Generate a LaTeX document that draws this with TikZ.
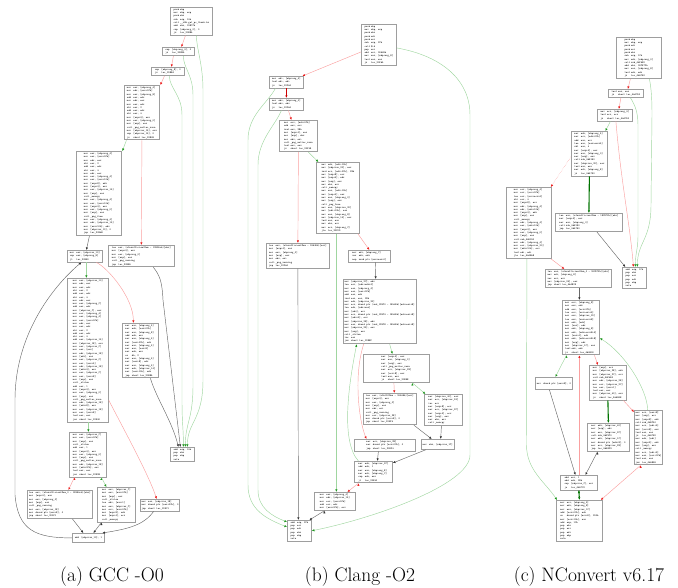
\documentclass[tikz,border=0pt]{standalone}
\usepackage{fontspec}
\usepackage{xcolor}
\usepackage{tikz}
\usetikzlibrary{arrows.meta}

\definecolor{truel}{RGB}{160,214,160}
\definecolor{trueh}{RGB}{30,150,30}
\definecolor{falsel}{RGB}{250,160,160}
\definecolor{falseh}{RGB}{235,30,30}
\definecolor{flowl}{RGB}{105,105,105}
\definecolor{boldg}{RGB}{0,115,0}
\definecolor{boldr}{RGB}{205,0,0}

\newcommand\asm{\fontsize{2.6}{3.3}\selectfont\ttfamily}
\newcommand\mn[1]{\makebox[6.5pt][l]{#1}}
\newcommand\capt{\fontsize{19.5}{23}\selectfont}

\begin{document}
\begin{tikzpicture}[x=1pt, y=-1pt,
    arrowhead/.style = {-{Latex[length=2.6pt,width=2.3pt,color=#1]}},
    block/.style = {rectangle, draw=black!38, line width=0.8pt, fill=white,
                    anchor=north west, align=left, inner sep=1.3pt, font=\asm},
    bw/.style = {minimum width=#1pt},
    yesedge/.style = {draw=truel, line width=0.45pt, arrowhead=trueh},
    noedge/.style = {draw=falsel, line width=0.45pt, arrowhead=falseh},
    flowedge/.style = {draw=flowl, line width=0.45pt, arrowhead=black!80},
    boldedge/.style = {draw=boldg, line width=1.1pt, arrowhead=boldg},
    boldno/.style = {draw=boldr, line width=1.1pt, arrowhead=boldr},
    subcap/.style = {font=\capt, anchor=base}]
  \useasboundingbox (0,0) rectangle (678,588);

  % (a) GCC -O0
  \node (gentry) [block, bw=42] at (170,7) {\mn{push}ebp\\\mn{mov}ebp, esp\\\mn{push}ebx\\\mn{sub}esp, 14h\\\mn{call}\_\_x86.get\_pc\_thunk.bx\\\mn{add}ebx, 1987Ch\\\mn{cmp}[ebp+arg\_0], 0\\\mn{jz}loc\_2088A};
  \node (gchka) [block, bw=32] at (162,47) {\mn{cmp}[ebp+arg\_4], 0\\\mn{jz}loc\_2088A};
  \node (gchkb) [block, bw=33] at (151,67) {\mn{cmp}[ebp+arg\_8], 0\\\mn{jz}loc\_2088A};
  \node (galloc) [block, bw=35] at (124,85) {\mn{mov}eax, [ebp+arg\_4]\\\mn{mov}edx, [eax+0Ch]\\\mn{mov}eax, [ebp+arg\_8]\\\mn{add}eax, edx\\\mn{mov}edx, eax\\\mn{mov}eax, edx\\\mn{shl}eax, 2\\\mn{add}eax, edx\\\mn{shl}eax, 3\\\mn{mov}[esp+4], eax\\\mn{mov}eax, [ebp+arg\_0]\\\mn{mov}[esp], eax\\\mn{call}\_png\_malloc\_warn\\\mn{mov}[ebp+var\_14], eax\\\mn{cmp}[ebp+var\_14], 0\\\mn{jz}short loc\_208A9};
  \node (gcopy) [block, bw=45] at (76,151) {\mn{mov}eax, [ebp+arg\_4]\\\mn{mov}eax, [eax+0Ch]\\\mn{mov}edx, eax\\\mn{shl}eax, 2\\\mn{add}eax, edx\\\mn{shl}eax, 3\\\mn{mov}edx, eax\\\mn{mov}eax, [ebp+arg\_4]\\\mn{mov}eax, [eax+10h]\\\mn{mov}[esp+8], edx\\\mn{mov}[esp+4], eax\\\mn{mov}eax, [ebp+var\_14]\\\mn{mov}[esp], eax\\\mn{call}\_memcpy\\\mn{mov}eax, [ebp+arg\_4]\\\mn{mov}eax, [eax+10h]\\\mn{mov}[esp+4], eax\\\mn{mov}eax, [ebp+arg\_0]\\\mn{mov}[esp], eax\\\mn{call}\_png\_free\\\mn{mov}eax, [ebp+arg\_4]\\\mn{mov}edx, [ebp+var\_14]\\\mn{mov}[eax+10h], edx\\\mn{mov}[ebp+var\_10], 0\\\mn{jmp}loc\_20868};
  \node (gwarn) [block, bw=66] at (108,245) {\mn{lea}eax, (aInsufficientMem - 1999Ach)[ebx]\\\mn{mov}[esp+4], eax\\\mn{mov}eax, [ebp+arg\_0]\\\mn{mov}[esp], eax\\\mn{call}\_png\_warning\\\mn{jmp}loc\_2088A};
  \node (gcond) [block, bw=35] at (67,250) {\mn{mov}eax, [ebp+var\_10]\\\mn{cmp}eax, [ebp+arg\_8]\\\mn{jl}loc\_208B0};
  \node (gbody) [block, bw=41] at (67,278) {\mn{mov}eax, [ebp+var\_10]\\\mn{mov}edx, eax\\\mn{mov}eax, edx\\\mn{shl}eax, 2\\\mn{add}eax, edx\\\mn{shl}eax, 3\\\mn{mov}edx, eax\\\mn{mov}eax, [ebp+arg\_C]\\\mn{add}eax, edx\\\mn{mov}[ebp+var\_C], eax\\\mn{mov}ecx, [ebp+arg\_4]\\\mn{mov}eax, [ebp+arg\_4]\\\mn{mov}eax, [eax+0Ch]\\\mn{mov}edx, eax\\\mn{mov}eax, edx\\\mn{shl}eax, 2\\\mn{add}eax, edx\\\mn{shl}eax, 3\\\mn{add}eax, [ebp+var\_14]\\\mn{mov}[ebp+var\_18], eax\\\mn{mov}eax, [ebp+var\_C]\\\mn{mov}eax, [eax]\\\mn{mov}edx, [ebp+var\_18]\\\mn{mov}[edx], eax\\\mn{mov}eax, [ebp+var\_C]\\\mn{mov}eax, [eax+4]\\\mn{mov}edx, [ebp+var\_18]\\\mn{mov}[edx+4], eax\\\mn{mov}eax, [ebp+var\_C]\\\mn{mov}eax, [eax+8]\\\mn{mov}[esp], eax\\\mn{call}\_strlen\\\mn{add}eax, 1\\\mn{mov}[esp+4], eax\\\mn{mov}eax, [ebp+arg\_0]\\\mn{mov}[esp], eax\\\mn{call}\_png\_malloc\_warn\\\mn{mov}edx, [ebp+var\_18]\\\mn{mov}[edx+8], eax\\\mn{mov}eax, [ebp+var\_18]\\\mn{mov}eax, [eax+8]\\\mn{test}eax, eax\\\mn{jnz}short loc\_20940};
  \node (gfix) [block, bw=36] at (122,323) {\mn{mov}eax, [ebp+arg\_4]\\\mn{mov}edx, [eax+0Ch]\\\mn{mov}eax, [ebp+arg\_8]\\\mn{add}edx, eax\\\mn{mov}eax, [ebp+arg\_4]\\\mn{mov}[eax+0Ch], edx\\\mn{mov}eax, [ebp+arg\_4]\\\mn{mov}eax, [eax+8]\\\mn{mov}edx, eax\\\mn{or}dh, 2\\\mn{mov}eax, [ebp+arg\_4]\\\mn{mov}[eax+8], edx\\\mn{mov}eax, [ebp+arg\_4]\\\mn{mov}edx, [ebp+var\_14]\\\mn{mov}[eax+10h], edx\\\mn{jmp}short loc\_2088A};
  \node (gret) [block, bw=24] at (170,447) {\mn{add}esp, 14h\\\mn{pop}ebx\\\mn{pop}ebp\\\mn{retn}};
  \node (gdup) [block, bw=37] at (69,432) {\mn{mov}eax, [ebp+var\_C]\\\mn{mov}eax, [eax+0Ch]\\\mn{mov}[esp], eax\\\mn{call}\_strlen\\\mn{add}eax, 1\\\mn{mov}[esp+4], eax\\\mn{mov}eax, [ebp+arg\_0]\\\mn{mov}[esp], eax\\\mn{call}\_png\_malloc\_warn\\\mn{mov}edx, [ebp+var\_18]\\\mn{mov}[edx+0Ch], eax\\\mn{test}eax, eax\\\mn{jnz}short loc\_20998};
  \node (gnomem) [block, bw=65] at (27,490) {\mn{lea}eax, (aInsufficientMem\_0 - 1999Ach)[ebx]\\\mn{mov}[esp+4], eax\\\mn{mov}eax, [ebp+arg\_0]\\\mn{mov}[esp], eax\\\mn{call}\_png\_warning\\\mn{mov}eax, [ebp+var\_18]\\\mn{mov}dword ptr [eax+8], 0\\\mn{jmp}short loc\_209C1};
  \node (gcpy) [block, bw=38] at (97,487) {\mn{mov}eax, [ebp+var\_C]\\\mn{mov}eax, [eax+0Ch]\\\mn{mov}[esp], eax\\\mn{call}\_strlen\\\mn{lea}edx, [eax+1]\\\mn{mov}eax, [ebp+var\_C]\\\mn{mov}ecx, [eax+0Ch]\\\mn{mov}[esp+8], edx\\\mn{mov}[esp+4], ecx\\\mn{call}\_memcpy};
  \node (gnull) [block, bw=39] at (140,499) {\mn{mov}eax, [ebp+var\_18]\\\mn{mov}dword ptr [eax+0Ch], 0\\\mn{jmp}short loc\_209C1};
  \node (ginc) [block, bw=32, minimum height=9pt] at (72,533) {\mn{add}[ebp+var\_10], 1};

  % (b) Clang -O2
  \node (centry) [block, bw=35] at (361,24) {\mn{push}ebp\\\mn{mov}ebp, esp\\\mn{push}ebx\\\mn{push}edi\\\mn{push}esi\\\mn{sub}esp, 2Ch\\\mn{call}\$+5\\\mn{pop}esi\\\mn{add}esi, 1B53Bh\\\mn{mov}eax, [ebp+arg\_8]\\\mn{test}eax, eax\\\mn{jz}loc\_20F64};
  \node (cchka) [block, bw=34] at (269,76) {\mn{mov}edi, [ebp+arg\_4]\\\mn{test}edi, edi\\\mn{jz}loc\_20F64};
  \node (cchkb) [block, bw=34] at (269,98) {\mn{mov}ebx, [ebp+arg\_0]\\\mn{test}ebx, ebx\\\mn{jz}loc\_20F64};
  \node (calloc) [block, bw=38] at (279,120) {\mn{mov}ecx, [edi+0Ch]\\\mn{add}eax, ecx\\\mn{imul}eax, 28h\\\mn{mov}[esp+4], eax\\\mn{mov}[esp], ebx\\\mn{mov}ebx, esi\\\mn{call}\_png\_malloc\_warn\\\mn{test}eax, eax\\\mn{jz}short loc\_20F3E};
  \node (ccopy) [block, bw=43] at (316,162) {\mn{mov}edx, [edi+10h]\\\mn{mov}[ebp+var\_20], eax\\\mn{imul}ecx, [edi+0Ch], 28h\\\mn{mov}[esp+8], ecx\\\mn{mov}[esp+4], edx\\\mn{mov}[esp], eax\\\mn{mov}ebx, esi\\\mn{call}\_memcpy\\\mn{mov}eax, [edi+10h]\\\mn{mov}[esp+4], eax\\\mn{mov}eax, [ebp+arg\_0]\\\mn{mov}[esp], eax\\\mn{call}\_png\_free\\\mn{mov}eax, [ebp+var\_20]\\\mn{mov}[edi+10h], eax\\\mn{mov}eax, [ebp+arg\_8]\\\mn{mov}[ebp+var\_14], eax\\\mn{test}eax, eax\\\mn{mov}ebx, esi\\\mn{mov}ecx, [ebp+arg\_C]\\\mn{jle}loc\_20F0D};
  \node (cwarn) [block, bw=63] at (266,243) {\mn{lea}eax, (aInsufficientMem - 1B53Bh)[esi]\\\mn{mov}[esp+4], eax\\\mn{mov}eax, [ebp+arg\_0]\\\mn{mov}[esp], eax\\\mn{mov}ebx, esi\\\mn{call}\_png\_warning\\\mn{jmp}loc\_20F64};
  \node (cinit) [block, bw=42] at (348,250) {\mn{mov}edi, [ebp+arg\_C]\\\mn{xor}edx, edx\\\mn{nop}word ptr [eax+eax+0]};
  \node (cbody) [block, bw=72] at (343,279) {\mn{mov}[ebp+var\_2C], edx\\\mn{lea}esi, [edx+edx*4]\\\mn{mov}eax, [ebp+arg\_4]\\\mn{mov}eax, [eax+0Ch]\\\mn{add}eax, edx\\\mn{imul}eax, eax, 28h\\\mn{mov}edx, [ebp+var\_20]\\\mn{mov}ecx, dword ptr (unk\_1D9C0 - 1B53Bh)[edi+esi*8]\\\mn{lea}edx, [edx+eax]\\\mn{mov}[edx], ecx\\\mn{mov}ecx, dword ptr (unk\_1D9C4 - 1B53Bh)[edi+esi*8]\\\mn{mov}[edx+4], ecx\\\mn{mov}[ebp+var\_28], edx\\\mn{mov}eax, dword ptr (unk\_1D9C8 - 1B53Bh)[edi+esi*8]\\\mn{mov}[ebp+var\_24], eax\\\mn{mov}[esp], eax\\\mn{call}\_strlen\\\mn{inc}eax\\\mn{jnz}short loc\_20E8F};
  \node (cdup) [block, bw=66] at (363,354) {\mn{mov}[esp+4], eax\\\mn{mov}eax, [ebp+arg\_0]\\\mn{mov}[esp], eax\\\mn{call}\_png\_malloc\_warn\\\mn{mov}ecx, [ebp+var\_28]\\\mn{mov}[ecx+8], eax\\\mn{test}eax, eax\\\mn{jz}short loc\_20EB8};
  \node (cnomem) [block, bw=53] at (363,393) {\mn{lea}eax, (aOutOfMem - 1B53Bh)[esi]\\\mn{mov}[esp+4], eax\\\mn{mov}eax, [ebp+arg\_0]\\\mn{mov}[esp], eax\\\mn{mov}ebx, esi\\\mn{call}\_png\_warning\\\mn{mov}ecx, [ebp+var\_28]\\\mn{mov}dword ptr [ecx+8], 0\\\mn{jmp}short loc\_20EF3};
  \node (ccpy) [block, bw=38] at (424,394) {\mn{mov}[ebp+var\_30], eax\\\mn{mov}ecx, [ebp+var\_24]\\\mn{inc}ecx\\\mn{mov}[esp+8], ecx\\\mn{mov}ecx, [ebp+var\_2C]\\\mn{mov}[esp+4], ecx\\\mn{mov}[esp], eax\\\mn{mov}ebx, esi\\\mn{call}\_memcpy};
  \node (cnull) [block, bw=61] at (354,439) {\mn{mov}ecx, [ebp+var\_28]\\\mn{mov}dword ptr [ecx+0Ch], 0\\\mn{jmp}short loc\_20EF3};
  \node (cjoin) [block, bw=32, minimum height=10pt] at (421,439) {\mn{mov}ebx, [ebp+var\_1C]};
  \node (cinc) [block, bw=38] at (354,461) {\mn{mov}edx, [ebp+var\_2C]\\\mn{add}edx, 1\\\mn{mov}eax, [ebp+arg\_8]\\\mn{mov}edi, [ebp+arg\_C]\\\mn{cmp}edx, eax\\\mn{jl}loc\_20E30};
  \node (cfix) [block, bw=41] at (314,492) {\mn{mov}eax, [ebp+arg\_4]\\\mn{mov}edx, [ebp+var\_14]\\\mn{mov}ecx, [eax+0Ch]\\\mn{add}ecx, edx\\\mn{mov}[eax+0Ch], ecx};
  \node (cret) [block, bw=24] at (287,520) {\mn{add}esp, 2Ch\\\mn{pop}esi\\\mn{pop}edi\\\mn{pop}ebx\\\mn{pop}ebp\\\mn{retn}};

  % (c) NConvert v6.17
  \node (nentry) [block, bw=45] at (616,37) {\mn{push}ebp\\\mn{mov}ebp, esp\\\mn{push}edi\\\mn{push}esi\\\mn{push}ebx\\\mn{sub}esp, 1Ch\\\mn{mov}edx, [ebp+arg\_0]\\\mn{call}sub\_46F5E0\\\mn{add}ebx, 1ECB7Fh\\\mn{mov}eax, [ebp+arg\_8]\\\mn{test}edx, edx\\\mn{jz}loc\_46A7B0};
  \node (nchka) [block, bw=35] at (608,89) {\mn{test}eax, eax\\\mn{jz}short loc\_46A7B0};
  \node (nchkb) [block, bw=35] at (597,109) {\mn{mov}ecx, [ebp+arg\_4]\\\mn{test}ecx, ecx\\\mn{jz}short loc\_46A7B0};
  \node (nalloc) [block, bw=36] at (571,131) {\mn{mov}edx, [ebp+arg\_4]\\\mn{mov}ecx, [edx+0Ch]\\\mn{add}eax, ecx\\\mn{lea}eax, [eax+eax*4]\\\mn{shl}eax, 3\\\mn{mov}[esp+4], eax\\\mn{mov}eax, [ebp+arg\_0]\\\mn{mov}[esp], eax\\\mn{call}sub\_46B1B0\\\mn{mov}[ebp+var\_20], eax\\\mn{test}eax, eax\\\mn{mov}edi, [ebp+arg\_8]\\\mn{jz}loc\_46A790};
  \node (ncopy) [block, bw=45] at (506,187) {\mn{mov}ecx, [ebp+arg\_4]\\\mn{mov}ecx, [ecx+0Ch]\\\mn{lea}ecx, [ecx+ecx*4]\\\mn{shl}ecx, 3\\\mn{mov}[esp+8], ecx\\\mn{mov}edx, [ebp+arg\_4]\\\mn{mov}edx, [edx+10h]\\\mn{mov}[esp+4], edx\\\mn{mov}[esp], eax\\\mn{call}\_memcpy\\\mn{mov}edx, [ebp+arg\_4]\\\mn{mov}eax, [edx+10h]\\\mn{mov}[esp+4], eax\\\mn{mov}eax, [ebp+arg\_0]\\\mn{mov}[esp], eax\\\mn{call}sub\_46B240\\\mn{mov}edx, [ebp+arg\_4]\\\mn{mov}ecx, [ebp+var\_20]\\\mn{mov}[edx+10h], ecx\\\mn{test}edi, edi\\\mn{jle}loc\_46A868};
  \node (nwarn) [block, bw=67] at (555,213) {\mn{lea}eax, (aInsufficientMem - 1ECB7Fh)[ebx]\\\mn{mov}[esp+4], eax\\\mn{mov}eax, [ebp+arg\_0]\\\mn{call}sub\_46E1E0\\\mn{jmp}loc\_46A7B0};
  \node (nret) [block, bw=24] at (622,267) {\mn{add}esp, 1Ch\\\mn{pop}ebx\\\mn{pop}esi\\\mn{pop}edi\\\mn{pop}ebp\\\mn{retn}};
  \node (ninit) [block, bw=66] at (545,269) {\mn{lea}eax, (aInsufficientMem\_0 - 1ECB7Fh)[ebx]\\\mn{mov}edi, [ebp+arg\_8]\\\mn{xor}esi, esi\\\mn{mov}[ebp+var\_24], eax\\\mn{jmp}short loc\_46A829};
  \node (nbody) [block, bw=37] at (562,300) {\mn{mov}ecx, [ebp+arg\_8]\\\mn{mov}eax, edx\\\mn{add}eax, [ecx+0Ch]\\\mn{lea}ecx, [esi+esi*4]\\\mn{mov}eax, [ebp+var\_20]\\\mn{lea}eax, [eax+ecx*8]\\\mn{mov}edx, [edx]\\\mn{mov}[eax], edx\\\mn{mov}edx, [ebp+arg\_8]\\\mn{mov}edx, [edx+ecx*8+4]\\\mn{mov}[eax+4], edx\\\mn{mov}edx, [edx+ecx*8+8]\\\mn{mov}[esp], edx\\\mn{mov}[ebp+var\_1C], eax\\\mn{test}edx, edx\\\mn{jz}short loc\_46A800};
  \node (nnull) [block, bw=37, minimum height=12pt] at (535,377) {\mn{mov}dword ptr [eax+8], 0};
  \node (ndup) [block, bw=37] at (589,365) {\mn{mov}[esp], ecx\\\mn{mov}[ebp+var\_28], edx\\\mn{mov}[ebp+var\_2C], ecx\\\mn{call}sub\_46F6B0\\\mn{mov}edx, [ebp+var\_28]\\\mn{mov}ecx, [ebp+var\_2C]\\\mn{lea}eax, [eax+1]\\\mn{test}eax, eax\\\mn{mov}[ebp+var\_30], eax\\\mn{jz}short loc\_46A848};
  \node (nfail) [block, bw=42] at (587,423) {\mn{mov}edx, [ebp+var\_30]\\\mn{mov}[esp], edx\\\mn{mov}eax, [ebp+var\_2C]\\\mn{call}sub\_46F9C0\\\mn{mov}edx, [ebp+var\_1C]\\\mn{mov}dword ptr [edx+8], 0\\\mn{mov}ecx, [ebp+var\_28]\\\mn{jmp}loc\_46A829};
  \node (ncpy) [block, bw=28] at (634,410) {\mn{mov}ecx, [eax+8]\\\mn{mov}[esp], ecx\\\mn{mov}[esp+8], edx\\\mn{call}sub\_46EC40\\\mn{mov}ecx, [edi+4]\\\mn{mov}[ecx+8], eax\\\mn{test}eax, eax\\\mn{jz}loc\_46A7E0\\\mn{mov}edx, [edi]\\\mn{mov}[esp+4], edx\\\mn{mov}[esp], eax\\\mn{call}\_memcpy\\\mn{mov}ecx, [edi+4]\\\mn{mov}eax, [ecx+0Ch]\\\mn{test}eax, eax\\\mn{jnz}loc\_46A84B};
  \node (ninc) [block, bw=37] at (560,475) {\mn{add}esi, 1\\\mn{add}edx, 28h\\\mn{cmp}[ebp+var\_C], esi\\\mn{ja}loc\_46A7C0};
  \node (nfix) [block, bw=46] at (556,500) {\mn{mov}ecx, [ebp+arg\_4]\\\mn{mov}edx, [ebp+arg\_8]\\\mn{mov}eax, [ebp+var\_1C]\\\mn{add}[ecx+0Ch], edx\\\mn{or}dword ptr [ecx+8], 200h\\\mn{mov}[ecx+10h], eax\\\mn{add}esp, 1Ch\\\mn{pop}ebx\\\mn{pop}esi\\\mn{pop}edi\\\mn{pop}ebp\\\mn{retn}};

  \node (capa) [subcap] at (112,581) {(a) GCC -O0};
  \node (capb) [subcap] at (360,581) {(b) Clang -O2};
  \node (capc) [subcap] at (589,581) {(c) NConvert v6.17};

  % edges of (a)
  \path[noedge]
    ([xshift=-6pt]gentry.south) edge ([xshift=3pt]gchka.north)
    ([xshift=-5pt]gchka.south) edge ([xshift=3.5pt]gchkb.north)
    ([xshift=-3.5pt]gchkb.south) edge ([xshift=18.5pt]galloc.north)
    (galloc.south) edge (gwarn.north)
    ([xshift=-13.5pt]gdup.south) edge ([xshift=8.5pt]gnomem.north);
  \path[yesedge]
    ([xshift=-15.5pt]galloc.south) edge ([xshift=23.5pt]gcopy.north)
    ([xshift=1.5pt]gcond.south) edge ([xshift=-1.5pt]gbody.north)
    ([xshift=0.5pt]gbody.south) edge ([xshift=0.5pt]gdup.north)
    ([xshift=13.5pt]gdup.south) edge ([xshift=-10pt]gcpy.north);
  \path[flowedge]
    ([xshift=-9.5pt]gcopy.south) edge ([xshift=1.5pt]gcond.north)
    ([xshift=12.5pt]gnomem.south) edge ([xshift=-5pt]ginc.north)
    ([xshift=-15pt]gcpy.south) edge ([xshift=5pt]ginc.north);
  \draw[yesedge] ([xshift=5pt]gentry.south) .. controls +(0,12) and +(0,-25) .. (203,90) -- (203,380) .. controls +(0,40) and +(0,-25) .. ([xshift=5pt]gret.north);
  \draw[yesedge] ([xshift=5pt]gchka.south) .. controls +(0,12) and +(0,-20) .. (193,95) -- (193,385) .. controls +(0,35) and +(0,-25) .. ([xshift=3pt]gret.north);
  \draw[yesedge] ([xshift=1.5pt]gchkb.south) .. controls +(0,12) and +(0,-20) .. (182,115) -- (182,400) .. controls +(0,25) and +(0,-20) .. ([xshift=1pt]gret.north);
  \draw[noedge] ([xshift=11.5pt]gcond.south) .. controls +(12,6) and +(0,-25) .. ([xshift=-7pt]gfix.north);
  \draw[noedge] ([yshift=-50pt]gbody.east) .. controls +(10,20) and +(-8,-25) .. ([xshift=-3.5pt]gnull.north);
  \draw[flowedge] ([xshift=12pt]gwarn.south) .. controls +(6,8) and +(-1,-20) .. (163,300) -- ([xshift=-2pt]gret.north);
  \draw[flowedge] ([xshift=10pt]gfix.south) .. controls +(6,20) and +(-6,-25) .. ([xshift=-4pt]gret.north);
  \draw[flowedge] ([xshift=-6.5pt]gnull.south) .. controls +(-10,14) and +(25,-4) .. ([xshift=14pt]ginc.north);
  \draw[flowedge] (ginc.west) .. controls (35,538) and (18,530) .. (15,495) -- (15,400) .. controls (15,330) and (58,282) .. ([xshift=-3.5pt]gcond.south);

  % edges of (b)
  \path[noedge]
    ([yshift=-7pt]centry.west) edge ([xshift=16pt]cchka.north)
    ([xshift=2pt]cchkb.south) edge ([xshift=-7pt]calloc.north)
    (calloc.south) edge (cwarn.north)
    ([xshift=20pt]ccopy.south) edge (cinit.north)
    ([xshift=-2.5pt]cdup.south) edge ([xshift=4.5pt]cnomem.north)
    ([xshift=-15pt]cinc.south) edge ([xshift=12.5pt]cfix.north);
  \path[boldno] (cchka) edge (cchkb);
  \path[yesedge]
    ([xshift=10pt]calloc.south) edge ([xshift=-19.5pt]ccopy.north)
    ([xshift=-1.5pt]ccopy.south) edge ([xshift=1.5pt]cfix.north)
    ([xshift=10pt]cbody.south) edge ([xshift=-4pt]cdup.north)
    ([xshift=16pt]cdup.south) edge ([xshift=-18pt]ccpy.north);
  \path[flowedge]
    (cwarn.south) edge ([xshift=-1pt]cret.north)
    ([xshift=6pt]cinit.south) edge ([xshift=-4pt]cbody.north)
    ([xshift=24pt]cnomem.south) edge ([xshift=-6pt]cjoin.north)
    ([xshift=-2pt]ccpy.south) edge ([xshift=3pt]cjoin.north)
    ([xshift=-6.5pt]cnull.south) edge ([xshift=4pt]cinc.north)
    ([xshift=-12pt]cjoin.south) edge ([yshift=-2pt]cinc.north east)
    ([xshift=-10.5pt]cfix.south) edge ([xshift=10pt]cret.north);
  \draw[yesedge] ([yshift=-3pt]centry.east) .. controls +(45,8) and +(0,-35) .. (470,115) -- (470,455) .. controls +(0,30) and +(60,-12) .. (cret.east);
  \draw[yesedge] ([xshift=-11pt]cchka.south) .. controls +(-8,15) and +(0,-25) .. (248,140) -- (248,485) .. controls +(0,25) and +(-20,-8) .. ([yshift=-7pt]cret.north west);
  \draw[yesedge] ([xshift=-5pt]cchkb.south) .. controls +(-6,15) and +(0,-25) .. (258,165) -- (258,490) .. controls +(0,18) and +(-15,-6) .. ([yshift=-2pt]cret.north west);
  \draw[noedge] ([xshift=-16pt]cbody.south) .. controls +(-10,30) and +(-8,-20) .. ([xshift=-18.5pt]cnull.north);
  \draw[yesedge] ([xshift=-15pt]cinc.north) .. controls +(-18,-20) and +(-8,40) .. ([xshift=-23pt]cbody.south);

  % edges of (c)
  \path[noedge]
    ([xshift=-8.5pt]nentry.south) edge ([xshift=2pt]nchka.north)
    ([xshift=-5pt]nchka.south) edge ([xshift=4pt]nchkb.north)
    ([xshift=22pt]ncopy.south) edge ([xshift=-14pt]ninit.north)
    ([xshift=13.5pt]nbody.south) edge ([xshift=-10pt]ndup.north)
    ([xshift=15.5pt]ndup.south) edge ([yshift=-2pt]ncpy.north west)
    ([xshift=0.5pt]ninc.north) edge ([xshift=-1.5pt]nbody.south)
    ([xshift=-8pt]ncpy.south) edge ([xshift=-2pt]nfix.north east);
  \draw[noedge, densely dotted] ([yshift=-3pt]nalloc.west) -- ([xshift=-1pt]ncopy.north east);
  \draw[noedge] ([xshift=1pt]nchkb.south) .. controls +(5,60) and +(-3,-40) .. ([xshift=-1pt]nret.north);
  \path[yesedge]
    ([xshift=-4.5pt]nchkb.south) edge ([xshift=16pt]nalloc.north)
    ([xshift=-14.5pt]nbody.south) edge ([xshift=1.5pt]nnull.north);
  \draw[yesedge] ([xshift=10.5pt]nentry.south) .. controls +(2,10) and +(0,-15) .. (652,115) -- (651,205) .. controls +(0,35) and +(0,-25) .. ([xshift=3pt]nret.north);
  \draw[yesedge] ([xshift=4.5pt]nchka.south) .. controls +(5,8) and +(0,-12) .. (638,125) -- (638,235) .. controls +(0,15) and +(0,-15) .. ([xshift=1pt]nret.north);
  \draw[yesedge] ([xshift=-2pt]ncopy.south) -- (526.5,445) .. controls +(0,25) and +(-12,-18) .. ([xshift=1pt]nfix.north west);
  \draw[yesedge] ([xshift=-1pt]ncpy.north) .. controls +(0,-20) and +(25,15) .. ([yshift=-10.5pt]nbody.east);
  \path[flowedge]
    ([xshift=8pt]nwarn.south) edge ([xshift=-9pt]nret.north)
    ([xshift=1pt]ninit.south) edge ([xshift=-1.5pt]nbody.north)
    ([xshift=-4.5pt]nnull.south) edge ([xshift=-3.5pt]ninc.north)
    ([xshift=-11pt]nfail.south) edge ([xshift=6.5pt]ninc.north);
  \path[boldedge]
    (nalloc.south) edge (nwarn.north)
    (ndup.south) edge (nfail.north)
    (ninc.south) edge (nfix.north);
\end{tikzpicture}
\end{document}
